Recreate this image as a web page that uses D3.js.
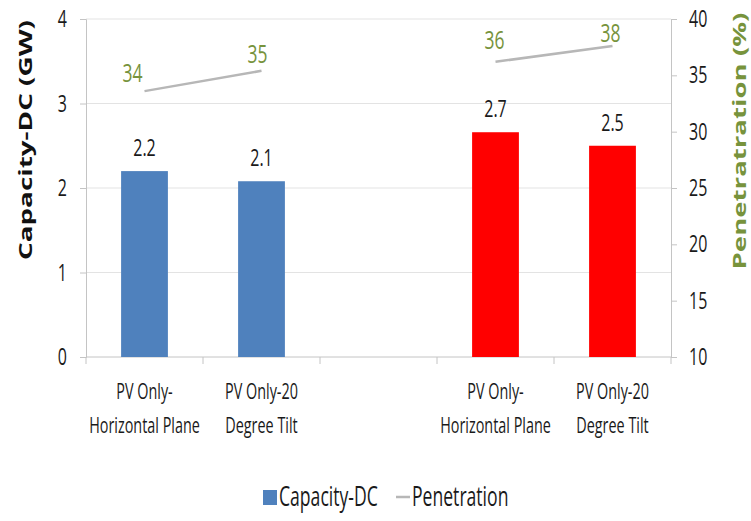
<!DOCTYPE html>
<html>
<head>
<meta charset="utf-8">
<script src="https://cdn.jsdelivr.net/npm/d3@7"></script>
<style>
  html, body { margin: 0; padding: 0; background: #fff; }
  svg { display: block; }
  text { font-family: "Open Sans", "Liberation Sans", sans-serif; fill: #1a1a1a; }
</style>
</head>
<body>
<script>
// Installed PV capacity per scenario, with the resulting penetration level.
const categories = [
  ["PV Only-", "Horizontal Plane"],
  ["PV Only-20", "Degree Tilt"],
  ["", ""],
  ["PV Only-", "Horizontal Plane"],
  ["PV Only-20", "Degree Tilt"]
];
const capacityGW = [2.2, 2.08, null, 2.66, 2.5];
const penetrationPct = [33.6, 35.4, null, 36.2, 37.6];
const barColors = ["#4F81BD", "#4F81BD", null, "#FF0000", "#FF0000"];
const leftTicks = [0, 1, 2, 3, 4];
const rightTicks = [10, 15, 20, 25, 30, 35, 40];
// small hand nudges for the penetration value labels [dx, dy]
const penLabelShift = [[-12, -9], [-4, -8], null, [-1, -13], [-2, -4]];

const W = 751, H = 521;
const plot = { left: 86, right: 671, top: 19, bottom: 357 };
const SY = 1.5; // text is drawn tall and narrow

const svg = d3.select("body").append("svg").attr("width", W).attr("height", H);

const x = d3.scaleBand()
  .domain(d3.range(categories.length))
  .range([plot.left, plot.right])
  .paddingInner(0.6).paddingOuter(0.3);
const yL = d3.scaleLinear().domain([0, 4]).range([plot.bottom, plot.top]);
const yR = d3.scaleLinear().domain([10, 40]).range([plot.bottom, plot.top]);
const step = x.step();
const cx = i => x(i) + x.bandwidth() / 2;

// tall text helper: baseline at (px, py)
function label(g, px, py, str, opts = {}) {
  return g.append("text")
    .attr("transform", `translate(${px},${py}) scale(${opts.sx || 1},${SY})`)
    .attr("text-anchor", opts.anchor || "middle")
    .attr("font-size", opts.size || 15)
    .style("fill", opts.fill || "#1a1a1a")
    .text(str);
}

// gridlines
svg.append("g").selectAll("line").data(leftTicks.filter(d => d > 0)).join("line")
  .attr("x1", plot.left).attr("x2", plot.right)
  .attr("y1", d => yL(d)).attr("y2", d => yL(d))
  .attr("stroke", "#e3e3e3").attr("stroke-width", 1);

// left axis
const axL = svg.append("g").attr("transform", `translate(${plot.left},0)`)
  .call(d3.axisLeft(yL).tickValues(leftTicks).tickSize(6).tickFormat(""));
axL.select(".domain").attr("stroke", "#c4c4c4");
axL.selectAll(".tick line").attr("stroke", "#c4c4c4");
leftTicks.forEach(d => label(svg, 67, yL(d) + 8, d, { anchor: "end", size: 16 }));

// right axis
const axR = svg.append("g").attr("transform", `translate(${plot.right},0)`)
  .call(d3.axisRight(yR).tickValues(rightTicks).tickSize(6).tickFormat(""));
axR.select(".domain").attr("stroke", "#c4c4c4");
axR.selectAll(".tick line").attr("stroke", "#c4c4c4");
rightTicks.forEach(d => label(svg, 689, yR(d) + 8, d, { anchor: "start", size: 16 }));

// bottom axis with category boundary ticks
svg.append("line")
  .attr("x1", plot.left).attr("x2", plot.right)
  .attr("y1", plot.bottom).attr("y2", plot.bottom)
  .attr("stroke", "#c4c4c4");
svg.append("g").selectAll("line").data(d3.range(categories.length + 1)).join("line")
  .attr("x1", i => plot.left + i * step).attr("x2", i => plot.left + i * step)
  .attr("y1", plot.bottom).attr("y2", plot.bottom + 7)
  .attr("stroke", "#c4c4c4");

// category labels
categories.forEach((lines, i) => {
  label(svg, cx(i), 399, lines[0], { size: 14.4 });
  label(svg, cx(i), 433, lines[1], { size: 14.4 });
});

// bars
const barIdx = d3.range(capacityGW.length).filter(i => capacityGW[i] != null);
svg.append("g").selectAll("rect").data(barIdx).join("rect")
  .attr("x", i => x(i))
  .attr("width", x.bandwidth())
  .attr("y", i => yL(capacityGW[i]))
  .attr("height", i => plot.bottom - yL(capacityGW[i]))
  .attr("fill", i => barColors[i]);
barIdx.forEach(i =>
  label(svg, cx(i), yL(capacityGW[i]) - 15, d3.format(".1f")(capacityGW[i]), { size: 16 }));

// penetration line (broken across the empty category)
const line = d3.line()
  .defined(d => d != null)
  .x((d, i) => cx(i))
  .y(d => yR(d));
svg.append("path")
  .datum(penetrationPct)
  .attr("d", line)
  .attr("fill", "none")
  .attr("stroke", "#b7b7b7")
  .attr("stroke-width", 2.5);
penetrationPct.forEach((v, i) => {
  if (v == null) return;
  const [dx, dy] = penLabelShift[i];
  label(svg, cx(i) + dx, yR(v) + dy, d3.format(".0f")(v), { size: 17.5, fill: "#77933C" });
});

// axis titles
svg.append("text")
  .attr("transform", `translate(32,140) rotate(-90)`)
  .attr("text-anchor", "middle")
  .attr("font-family", "DejaVu Sans")
  .attr("font-weight", "bold")
  .attr("font-size", 17)
  .attr("textLength", 240).attr("lengthAdjust", "spacingAndGlyphs")
  .style("fill", "#111")
  .text("Capacity-DC (GW)");
svg.append("text")
  .attr("transform", `translate(746,141) rotate(-90)`)
  .attr("text-anchor", "middle")
  .attr("font-family", "DejaVu Sans")
  .attr("font-weight", "bold")
  .attr("font-size", 17)
  .attr("textLength", 257).attr("lengthAdjust", "spacingAndGlyphs")
  .style("fill", "#77933C")
  .text("Penetratration (%)");

// legend
svg.append("rect").attr("x", 263).attr("y", 490).attr("width", 14).attr("height", 15).attr("fill", "#4F81BD");
label(svg, 279, 506, "Capacity-DC", { anchor: "start", size: 17.6 });
svg.append("line").attr("x1", 396).attr("x2", 410).attr("y1", 497).attr("y2", 497)
  .attr("stroke", "#b7b7b7").attr("stroke-width", 2.5);
label(svg, 412, 506, "Penetration", { anchor: "start", size: 17.6 });
</script>
</body>
</html>
